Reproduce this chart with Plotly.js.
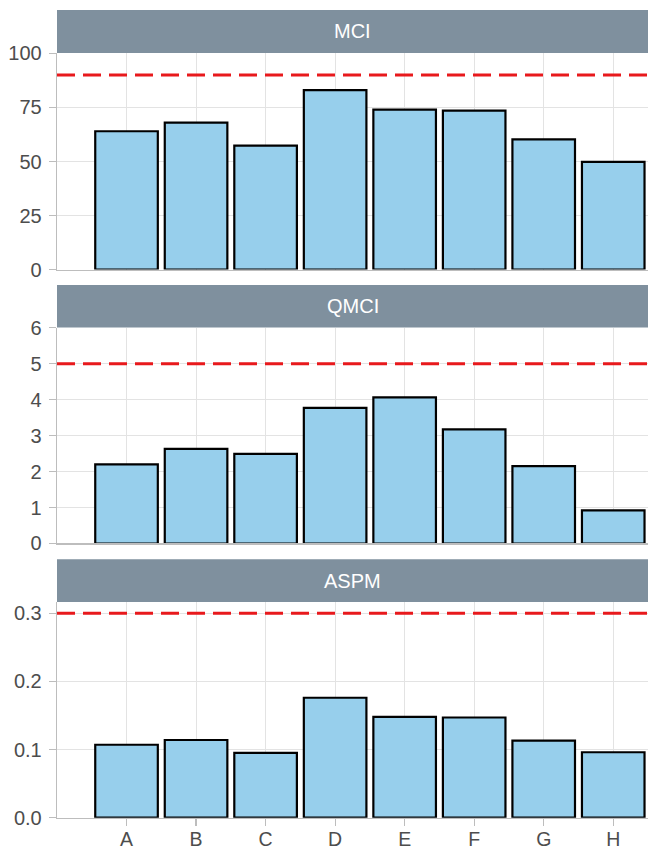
<!DOCTYPE html>
<html>
<head>
<meta charset="utf-8">
<script src="https://cdn.plot.ly/plotly-3.0.1.min.js"></script>
<style>html,body{margin:0;padding:0;background:#fff;}#chart{width:648px;height:850px;}</style>
</head>
<body>
<div id="chart"></div>
<script>
const categories = ["A","B","C","D","E","F","G","H"];
const panelNames = ["MCI","QMCI","ASPM"];
const mciValues  = [64, 68, 57.3, 83, 74, 73.5, 60.2, 49.8];
const qmciValues = [2.2, 2.63, 2.49, 3.77, 4.06, 3.17, 2.15, 0.92];
const aspmValues = [0.107, 0.114, 0.095, 0.176, 0.148, 0.147, 0.113, 0.096];
const thresholds = [90, 5, 0.3];
const yRanges = [[0, 100], [0, 6], [0, 0.316]];
const yTicks = [[0, 25, 50, 75, 100], [0, 1, 2, 3, 4, 5, 6], [0, 0.1, 0.2, 0.3]];
const yTickText = [["0","25","50","75","100"], ["0","1","2","3","4","5","6"], ["0.0","0.1","0.2","0.3"]];

const seriesList = [mciValues, qmciValues, aspmValues];
const plotDomains = [[0.6713, 0.9348], [0.3372, 0.6004], [0.0028, 0.2655]];
const stripDomains = [[0.9354, 0.9878], [0.6006, 0.6524], [0.2659, 0.3179]];

const FONT = "Liberation Sans, Arial, sans-serif";
const BAR = "#97CFEC";
const STRIP = "#7F909E";
const GRID = "#E3E3E3";
const AXIS = "#BDBDBD";

const traces = seriesList.map((vals, i) => ({
  type: "bar",
  x: categories,
  y: vals,
  xaxis: i === 0 ? "x" : "x" + (i + 1),
  yaxis: i === 0 ? "y" : "y" + (i + 1),
  width: 0.9,
  marker: { color: BAR, line: { color: "#000000", width: 2.2 } },
  hoverinfo: "skip",
  showlegend: false
}));

const layout = {
  width: 648, height: 850,
  margin: { l: 57, r: 0, t: 0, b: 30 },
  paper_bgcolor: "#ffffff",
  plot_bgcolor: "#ffffff",
  font: { family: FONT, color: "#4D4D4D", size: 20 },
  showlegend: false,
  shapes: [],
  annotations: []
};

for (let i = 0; i < 3; i++) {
  const xa = i === 0 ? "xaxis" : "xaxis" + (i + 1);
  const ya = i === 0 ? "yaxis" : "yaxis" + (i + 1);
  const yref = i === 0 ? "y" : "y" + (i + 1);
  const isBottom = i === 2;
  layout[xa] = {
    type: "category",
    range: [-1, 7.5],
    domain: [0, 1],
    anchor: yref,
    showgrid: true, gridcolor: GRID, gridwidth: 1,
    showline: true, linecolor: AXIS, linewidth: 1.3,
    zeroline: false,
    ticks: isBottom ? "outside" : "",
    ticklen: 7, tickcolor: AXIS, tickwidth: 1.2,
    ticklabelstandoff: -3,
    showticklabels: isBottom,
    tickfont: { family: FONT, size: 19.5, color: "#4D4D4D" },
    fixedrange: true
  };
  layout[ya] = {
    range: yRanges[i],
    domain: plotDomains[i],
    anchor: i === 0 ? "x" : "x" + (i + 1),
    tickvals: yTicks[i],
    ticktext: yTickText[i],
    showgrid: true, gridcolor: GRID, gridwidth: 1,
    showline: true, linecolor: AXIS, linewidth: 1.3,
    zeroline: false,
    ticks: "outside", ticklen: 7, tickcolor: AXIS, tickwidth: 1.2,
    ticklabelstandoff: 3,
    tickfont: { family: FONT, size: 20, color: "#4D4D4D" },
    fixedrange: true
  };
  layout.shapes.push({
    type: "line", xref: "paper", x0: 0, x1: 1,
    yref: yref, y0: thresholds[i], y1: thresholds[i],
    line: { color: "#E8191C", width: 3, dash: "18px,8px" },
    layer: "above"
  });
  layout.shapes.push({
    type: "rect", xref: "paper", yref: "paper",
    x0: 0, x1: 1, y0: stripDomains[i][0], y1: stripDomains[i][1],
    fillcolor: STRIP, line: { width: 0 }, layer: "above"
  });
  layout.annotations.push({
    xref: "paper", yref: "paper",
    x: 0.5, y: (stripDomains[i][0] + stripDomains[i][1]) / 2,
    text: panelNames[i], showarrow: false,
    xanchor: "center", yanchor: "middle",
    font: { family: FONT, size: 20, color: "#FFFFFF" }
  });
}

Plotly.newPlot("chart", traces, layout, { displayModeBar: false, staticPlot: true });
</script>
</body>
</html>
